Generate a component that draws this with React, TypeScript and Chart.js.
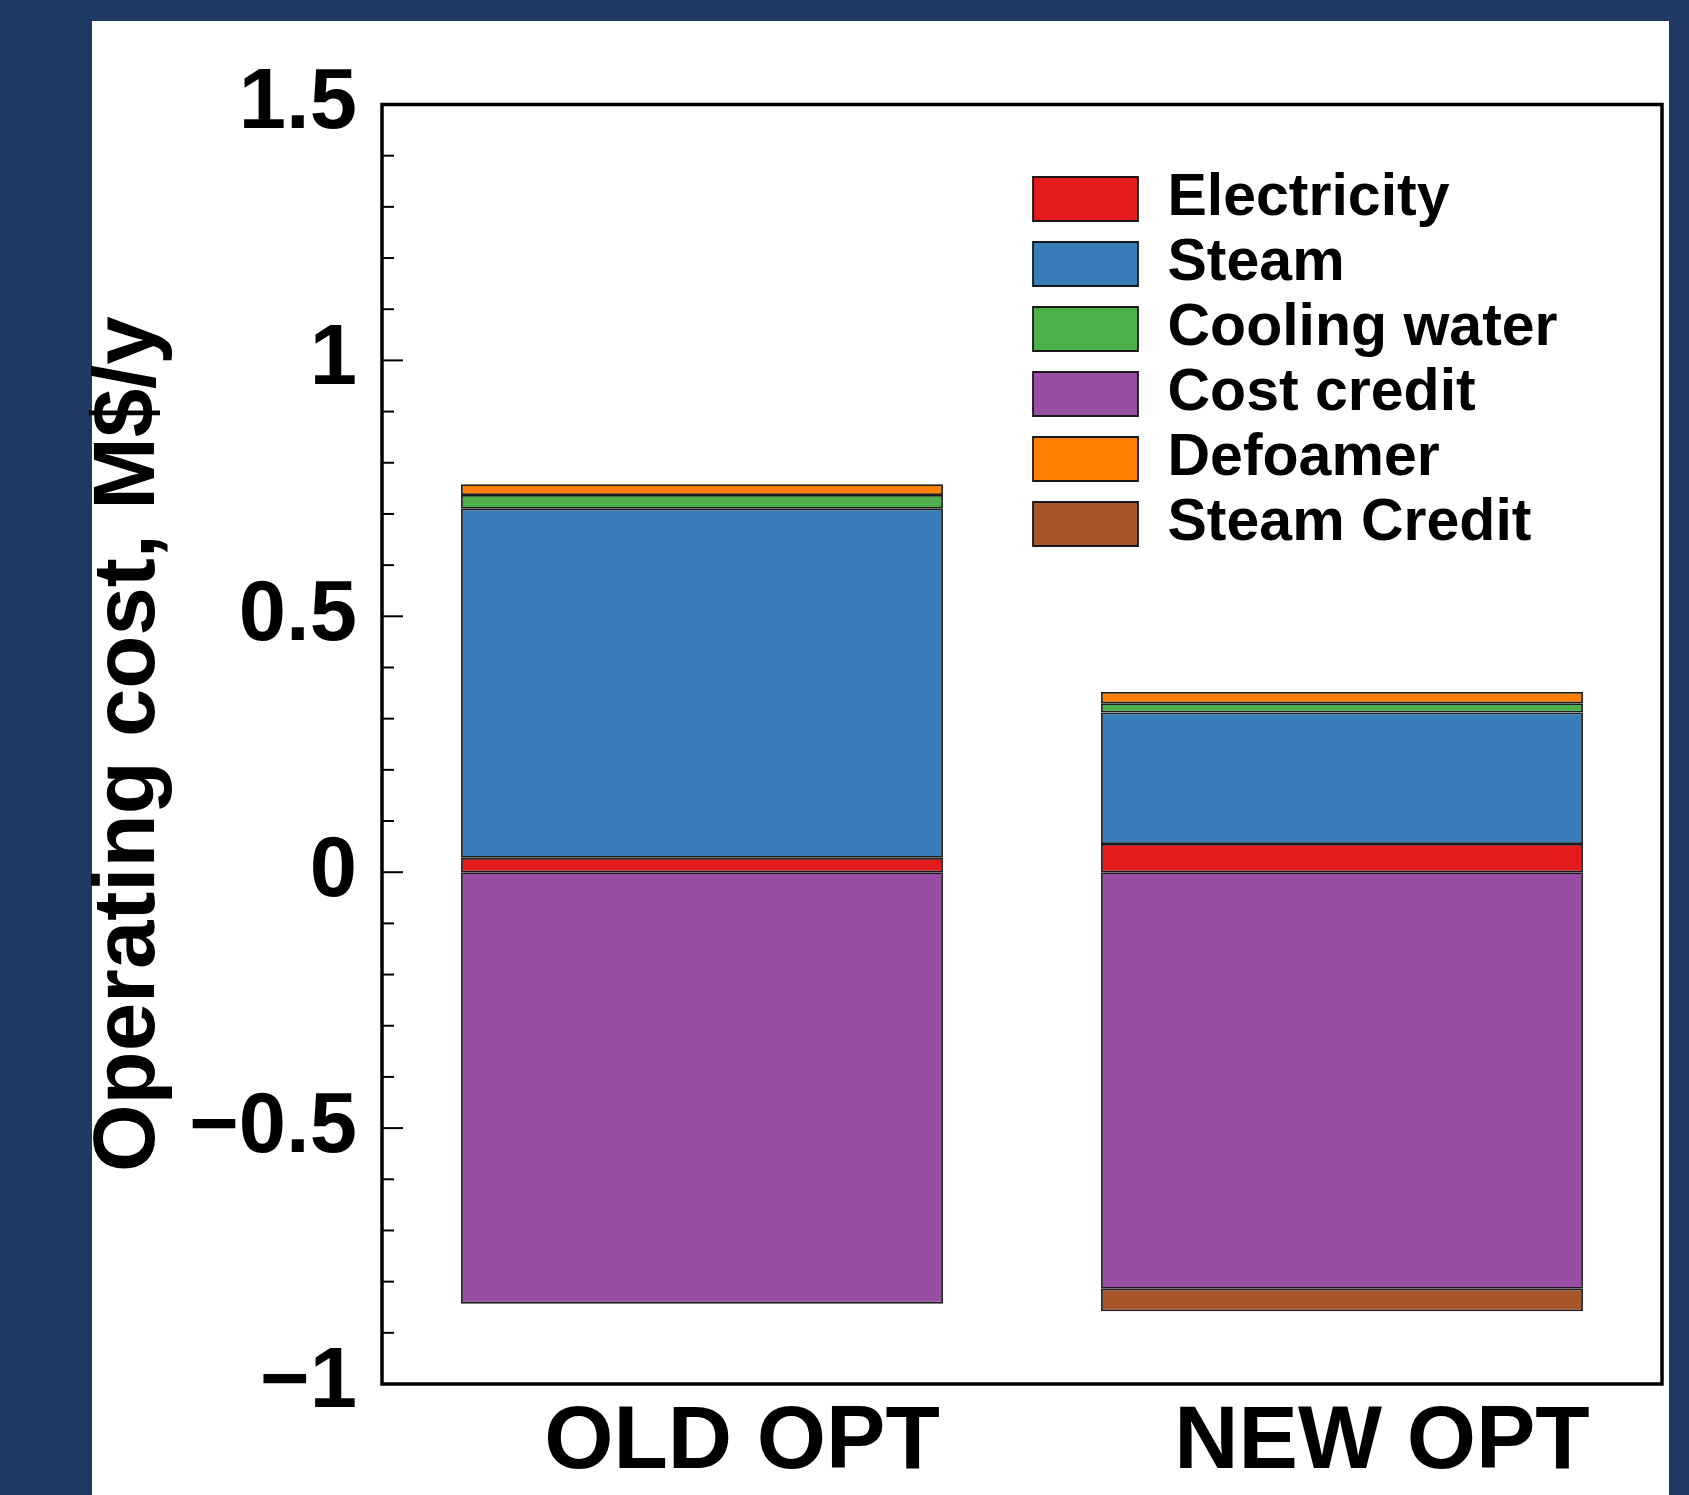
import React, { useEffect, useRef } from "react";
import { Chart, registerables } from "chart.js";

Chart.register(...registerables);

// ---- data ----
const categories = ["OLD OPT", "NEW OPT"];
const electricity = [0.028, 0.055];
const steam = [0.682, 0.257];
const coolingWater = [0.027, 0.018];
const costCredit = [-0.843, -0.814];
const defoamer = [0.021, 0.022];
const steamCredit = [0, -0.044];

const seriesLabels = ["Electricity", "Steam", "Cooling water", "Cost credit", "Defoamer", "Steam Credit"];
const seriesValues = [electricity, steam, coolingWater, costCredit, defoamer, steamCredit];
const seriesColors = ["#e41a1c", "#377eb8", "#4daf4a", "#984ea3", "#ff7f00", "#a65628"];

const yTitle = "Operating cost, M$/y";
const yMin = -1;
const yMax = 1.5;
const yMinorStep = 0.1;
const yMajorStep = 0.5;

// ---- styles ----
const NAVY = "#203864";
const FONT = '"Liberation Sans", Arial, Helvetica, sans-serif';
const W = 1689;
const H = 1495;
const LEGEND_LEFT = 1027;
const LEGEND_TOP = 163.5;

const fmt = (v: number) => {
  const r = Math.round(v * 10) / 10;
  if (r < 0) return "\u2212" + String(Math.abs(r));
  return String(r);
};

const isMajor = (v: number) => Math.abs(v / yMajorStep - Math.round(v / yMajorStep)) < 1e-6;

const framePlugin = {
  id: "frameAndTicks",
  afterLayout(chart: any) {
    const lg = chart.legend;
    if (lg) {
      const w = lg.width;
      lg.left = LEGEND_LEFT;
      lg.top = LEGEND_TOP;
      lg.right = lg.left + w;
      lg.bottom = chart.chartArea.bottom;
    }
  },
  afterDraw(chart: any) {
    const { ctx, chartArea: a } = chart;
    const ys = chart.scales.y;
    ctx.save();
    ctx.strokeStyle = "#000";
    ctx.lineWidth = 2;
    ys.ticks.forEach((t: any) => {
      const py = ys.getPixelForValue(t.value);
      const len = isMajor(t.value) ? 21 : 12;
      ctx.beginPath();
      ctx.moveTo(a.left, py);
      ctx.lineTo(a.left + len, py);
      ctx.stroke();
    });
    ctx.lineWidth = 3.5;
    ctx.strokeRect(a.left, a.top, a.right - a.left, a.bottom - a.top);
    ctx.restore();
  },
};

export default function App() {
  const ref = useRef<HTMLCanvasElement>(null);

  useEffect(() => {
    document.body.style.margin = "0";
    document.body.style.background = NAVY;
    Chart.defaults.font.family = FONT;
    Chart.defaults.color = "#000";

    const chart = new Chart(ref.current as HTMLCanvasElement, {
      type: "bar",
      data: {
        labels: categories,
        datasets: seriesLabels.map((label, i) => ({
          label,
          data: seriesValues[i],
          backgroundColor: seriesColors[i],
          borderColor: "rgba(15,15,15,0.95)",
          borderWidth: 1.8,
          borderSkipped: false,
          barPercentage: 0.753,
          categoryPercentage: 1,
        })),
      },
      options: {
        responsive: false,
        maintainAspectRatio: false,
        devicePixelRatio: 1,
        animation: false,
        events: [],
        layout: { padding: { top: 104.5, right: 27, left: 0, bottom: 0 } },
        plugins: {
          tooltip: { enabled: false },
          title: { display: false },
          legend: {
            display: true,
            position: "chartArea",
            align: "start",
            labels: {
              boxWidth: 105,
              boxHeight: 44,
              padding: 6,
              color: "#000",
              font: { family: FONT, size: 59, weight: "bold" },
            },
          },
        },
        scales: {
          x: {
            stacked: true,
            offset: true,
            grid: { display: false, drawTicks: false },
            border: { display: false },
            ticks: {
              color: "#000",
              font: { family: FONT, size: 89, weight: "bold" },
              padding: 6,
              labelOffset: 40,
              maxRotation: 0,
              autoSkip: false,
            },
            afterFit: (s: any) => {
              s.height = 111;
            },
          },
          y: {
            stacked: true,
            min: yMin,
            max: yMax,
            grid: { display: false, drawTicks: false },
            border: { display: false },
            ticks: {
              stepSize: yMinorStep,
              autoSkip: false,
              color: "#000",
              padding: 25,
              font: { family: FONT, size: 85, weight: "bold" },
              callback: (v: any) => (isMajor(Number(v)) ? fmt(Number(v)) : ""),
            },
            title: {
              display: true,
              text: yTitle,
              color: "#000",
              font: { family: FONT, size: 87, weight: "bold" },
              padding: { top: 78, bottom: 0 },
            },
            afterFit: (s: any) => {
              s.width = 382;
            },
          },
        },
      } as any,
      plugins: [framePlugin],
    });
    return () => chart.destroy();
  }, []);

  return (
    <div style={{ position: "relative", width: W, height: H, background: NAVY, overflow: "hidden" }}>
      <div style={{ position: "absolute", left: 92, top: 21, width: 1577, height: H - 21, background: "#fff" }} />
      <canvas
        ref={ref}
        width={W}
        height={H}
        style={{ position: "absolute", left: 0, top: 0, width: W, height: H }}
      />
    </div>
  );
}
